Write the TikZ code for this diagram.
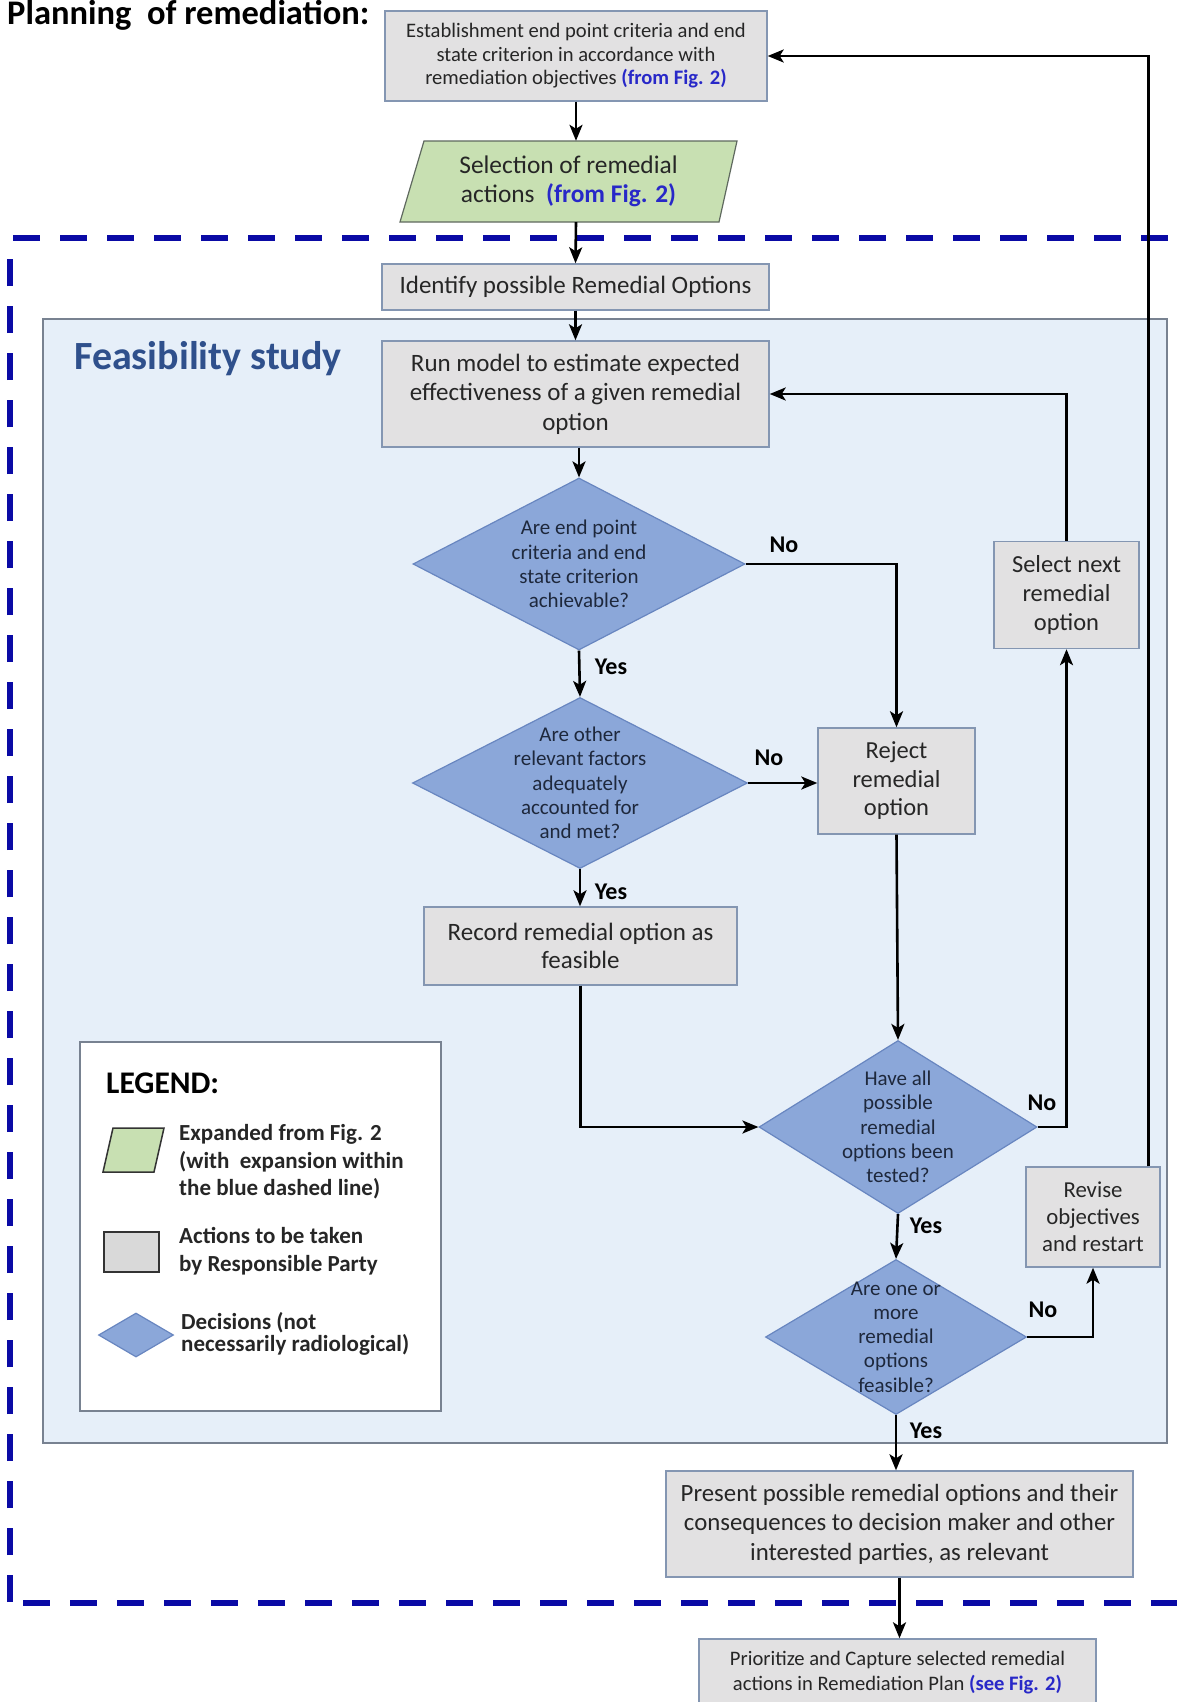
\documentclass[tikz,border=0pt]{standalone}
\usepackage{fontspec}
\setmainfont{Carlito}
\usetikzlibrary{shapes.geometric,arrows.meta,calc}

\definecolor{boxfill}{RGB}{226,225,226}
\definecolor{boxline}{RGB}{132,150,178}
\definecolor{decfill}{RGB}{139,167,217}
\definecolor{decline}{RGB}{104,134,192}
\definecolor{greenfill}{RGB}{200,224,178}
\definecolor{greenline}{RGB}{95,105,95}
\definecolor{panelfill}{RGB}{230,239,249}
\definecolor{panelline}{RGB}{120,130,145}
\definecolor{dashblue}{RGB}{10,10,165}
\definecolor{linkblue}{RGB}{40,40,200}
\definecolor{feasblue}{RGB}{47,80,140}
\definecolor{txt}{RGB}{38,38,38}
\definecolor{dectxt}{RGB}{30,40,60}

\newcommand{\figref}[1]{\textcolor{linkblue}{\bfseries #1}}
\newcommand{\fs}[2]{\fontsize{#1}{#2}\selectfont}

\begin{document}
\begin{tikzpicture}[x=1pt,y=-1pt,
  box/.style={draw=boxline, fill=boxfill, line width=1.4pt, inner sep=0pt,
              align=center, text=txt, font=\fs{25}{29.5}},
  dec/.style={diamond, draw=decline, fill=decfill, line width=1.2pt, inner sep=0pt},
  dectext/.style={align=center, text=dectxt, inner sep=0pt, font=\fs{21}{24.3}},
  lbl/.style={font=\fs{24}{26}\bfseries, inner sep=0pt},
  arr/.style={line width=2.6pt, -{Stealth[length=16pt,width=13pt,inset=4pt]}},
  legtxt/.style={align=left, anchor=west, inner sep=0pt, font=\fs{23}{27.5}\bfseries, text=black!85},
]
\useasboundingbox (0,0) rectangle (1176,1702);
\fill[white] (0,0) rectangle (1176,1702);

% blue dashed frame (its right side lies off the page)
\begin{scope}[dashblue, line width=6pt]
  \draw[dash pattern=on 27pt off 20pt] (13,237.5) -- (1200,237.5);
  \draw[dash pattern=on 27pt off 20pt] (9.5,1602) -- (9.5,240);
  \draw[dash pattern=on 27pt off 20pt] (23,1603) -- (1200,1603);
\end{scope}

% feasibility study panel and legend frame
\node[draw=panelline, fill=panelfill, line width=1.5pt, minimum width=1124, minimum height=1124, inner sep=0pt] (panel) at (605,881) {};
\node[anchor=base west, font=\fs{40}{42}\bfseries, text=feasblue, inner sep=0pt] (ftitle) at (74,369) {Feasibility study};
\node[draw=panelline, fill=white, line width=1.5pt, minimum width=361, minimum height=369, inner sep=0pt] (legend) at (260.5,1226.5) {};

% heading
\node[anchor=base west, font=\fs{34.5}{36}\bfseries, inner sep=0pt] (title) at (7,25) {Planning\ \ of remediation:};

% process steps
\node[box, minimum width=382, minimum height=90, font=\fs{20.6}{23.5}] (est) at (576,56)
  {Establishment end point criteria and end\\state criterion in accordance with\\remediation objectives \figref{(from Fig. 2)}};

\path[fill=greenfill, draw=greenline, line width=1.2pt] (424,141) -- (737,141) -- (719,222) -- (400,222) -- cycle;
\node[minimum width=337, minimum height=81, inner sep=0pt, align=center, text=txt, font=\fs{25.4}{29}] (sel) at (568.5,181.5)
  {Selection of remedial\\actions \ \figref{(from Fig. 2)}};

\node[box, minimum width=387, minimum height=46] (idf) at (575.5,287) {Identify possible Remedial Options};
\node[box, minimum width=387, minimum height=106] (run) at (575.5,394)
  {Run model to estimate expected\\effectiveness of a given remedial\\option};

\node[dec, minimum width=332, minimum height=172] (d1) at (579,564) {};
\node[dectext] (d1t) at (d1) {Are end point\\criteria and end\\state criterion\\achievable?};

\node[dec, minimum width=335, minimum height=171] (d2) at (580,783) {};
\node[dectext] (d2t) at (d2) {Are other\\relevant factors\\adequately\\accounted for\\and met?};

\node[box, minimum width=157, minimum height=106, font=\fs{24.5}{28.5}] (rej) at (896.5,781) {Reject\\remedial\\option};
\node[box, minimum width=313, minimum height=78, font=\fs{25}{28}] (rec) at (580.5,946) {Record remedial option as\\feasible};
\node[box, minimum width=145, minimum height=107, font=\fs{24.5}{29}] (nxt) at (1066.5,595) {Select next\\remedial\\option};

\node[dec, minimum width=278, minimum height=173] (d3) at (898,1127) {};
\node[dectext] (d3t) at (d3) {Have all\\possible\\remedial\\options been\\tested?};

\node[dec, minimum width=261, minimum height=155] (d4) at (896,1337) {};
\node[dectext] (d4t) at (d4) {Are one or\\more\\remedial\\options\\feasible?};

\node[box, minimum width=134, minimum height=100, font=\fs{22.8}{27}] (rev) at (1093,1217) {Revise\\objectives\\and restart};
\node[box, minimum width=467, minimum height=106, font=\fs{24.8}{29.5}] (pres) at (899.5,1524)
  {Present possible remedial options and their\\consequences to decision maker and other\\interested parties, as relevant};
\node[box, minimum width=397, minimum height=67, font=\fs{20.6}{25}] (pri) at (897.5,1672.5)
  {Prioritize and Capture selected remedial\\actions in Remediation Plan \figref{(see Fig. 2)}};

% branch labels
\node[lbl] (no1) at (784,545) {No};
\node[lbl] (yes1) at (611,667) {Yes};
\node[lbl] (no2) at (769,758) {No};
\node[lbl] (yes2) at (611,892) {Yes};
\node[lbl] (no3) at (1042,1103) {No};
\node[lbl] (yes3) at (926,1226) {Yes};
\node[lbl] (no4) at (1043,1310) {No};
\node[lbl] (yes4) at (926,1431) {Yes};

% connectors
\draw[arr] (est.south) -- (est.south |- sel.north);
\draw[arr] (est.south |- sel.south) -- (idf.north);
\draw[arr] (idf.south) -- (run.north);
\draw[arr] (run.south -| d1.north) -- (d1.north);
\draw[arr] (d1.east) -| (rej.north);
\draw[arr] (d1.south) -- (d2.north);
\draw[arr] (d2.east) -- (d2.east -| rej.west);
\draw[arr] (d2.south) -- (d2.south |- rec.north);
\draw[arr] (rej.south) -- (d3.north);
\draw[arr] (rec.south) |- (d3.west);
\draw[arr] (d3.east) -| (nxt.south);
\draw[arr] (nxt.north) |- (run.east);
\draw[arr] (d3.south) -- (d4.north);
\draw[arr] (d4.east) -| (rev.south);
\draw[arr] ([xshift=-12pt]rev.north east) |- (est.east);
\draw[arr] (d4.south) -- (d4.south |- pres.north);
\draw[arr] (pres.south) -- (pres.south |- pri.north);

% legend
\node[anchor=base west, font=\fs{31.5}{33}\bfseries, inner sep=0pt] (legt) at (106,1093) {LEGEND:};
\path[fill=greenfill, draw=black!80, line width=1.5pt] (113,1128) -- (164,1128) -- (154,1172) -- (103,1172) -- cycle;
\node[legtxt] (lt1) at (179,1162) {Expanded from Fig. 2\\(with\ \ expansion within\\the blue dashed line)};
\node[draw=black!80, fill=black!15, line width=2pt, minimum width=55, minimum height=40, inner sep=0pt] (legbox) at (131,1252) {};
\node[legtxt] (lt2) at (179,1251) {Actions to be taken\\by Responsible Party};
\node[dec, minimum width=75, minimum height=44] (legdec) at (136,1335) {};
\node[legtxt, font=\fs{23}{22}\bfseries] (lt3) at (181,1334) {Decisions (not\\necessarily radiological)};
\end{tikzpicture}
\end{document}
